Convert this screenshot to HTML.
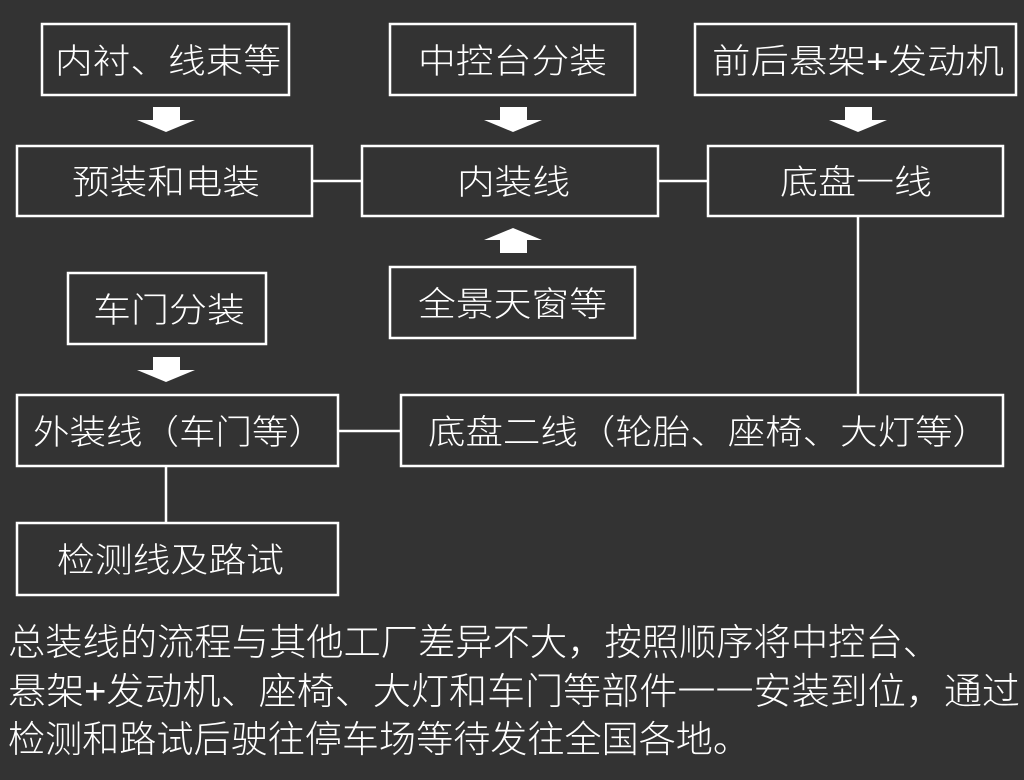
<!DOCTYPE html>
<html><head><meta charset="utf-8"><style>
html,body{margin:0;padding:0;background:#333333;}
svg{display:block}
text{font-family:"Liberation Sans","Noto Sans CJK SC",sans-serif;fill:#fff;font-weight:300;}
</style></head><body>
<svg width="1024" height="780" viewBox="0 0 1024 780" xmlns="http://www.w3.org/2000/svg">
<rect width="1024" height="780" fill="#333333"/>
<g fill="none" stroke="#fff" stroke-width="2.5">
<rect x="42" y="24" width="247" height="71"/>
<rect x="390" y="24" width="245" height="71"/>
<rect x="695" y="24" width="321" height="71"/>
<rect x="17" y="146" width="295" height="70"/>
<rect x="362" y="146" width="296" height="70"/>
<rect x="708" y="146" width="295" height="70"/>
<rect x="390" y="267" width="245" height="71"/>
<rect x="68" y="273" width="198" height="71"/>
<rect x="17" y="395" width="321" height="71"/>
<rect x="401" y="395" width="602" height="71"/>
<rect x="17" y="523" width="321" height="72"/>
<line x1="312" y1="181" x2="362" y2="181"/>
<line x1="658" y1="181" x2="708" y2="181"/>
<line x1="858" y1="216" x2="858" y2="395"/>
<line x1="338" y1="431" x2="401" y2="431"/>
<line x1="166" y1="466" x2="166" y2="523"/>
</g>
<g fill="#fff">
<polygon points="153,107 180,107 180,120 195,120 166,132 137,120 153,120"/>
<polygon points="500,107 527,107 527,120 542,120 513,132 484,120 500,120"/>
<polygon points="845,107 872,107 872,120 887,120 858,132 829,120 845,120"/>
<polygon points="500,253 527,253 527,240 542,240 513,228 484,240 500,240"/>
<polygon points="153,357 180,357 180,370 195,370 166,382 137,370 153,370"/>
</g>
<g font-size="34">
<text x="55" y="73" textLength="226" lengthAdjust="spacingAndGlyphs">内衬、线束等</text>
<text x="418" y="73" textLength="189" lengthAdjust="spacingAndGlyphs">中控台分装</text>
<text x="712" y="73" textLength="292" lengthAdjust="spacingAndGlyphs">前后悬架+发动机</text>
<text x="72" y="194" textLength="188" lengthAdjust="spacingAndGlyphs">预装和电装</text>
<text x="457" y="194" textLength="113" lengthAdjust="spacingAndGlyphs">内装线</text>
<text x="780" y="194" textLength="152" lengthAdjust="spacingAndGlyphs">底盘一线</text>
<text x="418" y="316" textLength="189" lengthAdjust="spacingAndGlyphs">全景天窗等</text>
<text x="93" y="322" textLength="152" lengthAdjust="spacingAndGlyphs">车门分装</text>
<text x="33" y="444" textLength="292" lengthAdjust="spacingAndGlyphs">外装线（车门等）</text>
<text x="428" y="444" textLength="562" lengthAdjust="spacingAndGlyphs">底盘二线（轮胎、座椅、大灯等）</text>
<text x="57" y="572" textLength="227" lengthAdjust="spacingAndGlyphs">检测线及路试</text>
</g>
<g font-size="37">
<text x="8" y="655" textLength="932" lengthAdjust="spacingAndGlyphs">总装线的流程与其他工厂差异不大，按照顺序将中控台、</text>
<text x="8" y="704" textLength="1012" lengthAdjust="spacingAndGlyphs">悬架+发动机、座椅、大灯和车门等部件一一安装到位，通过</text>
<text x="8" y="752" textLength="742" lengthAdjust="spacingAndGlyphs">检测和路试后驶往停车场等待发往全国各地。</text>
</g>
</svg>
</body></html>
